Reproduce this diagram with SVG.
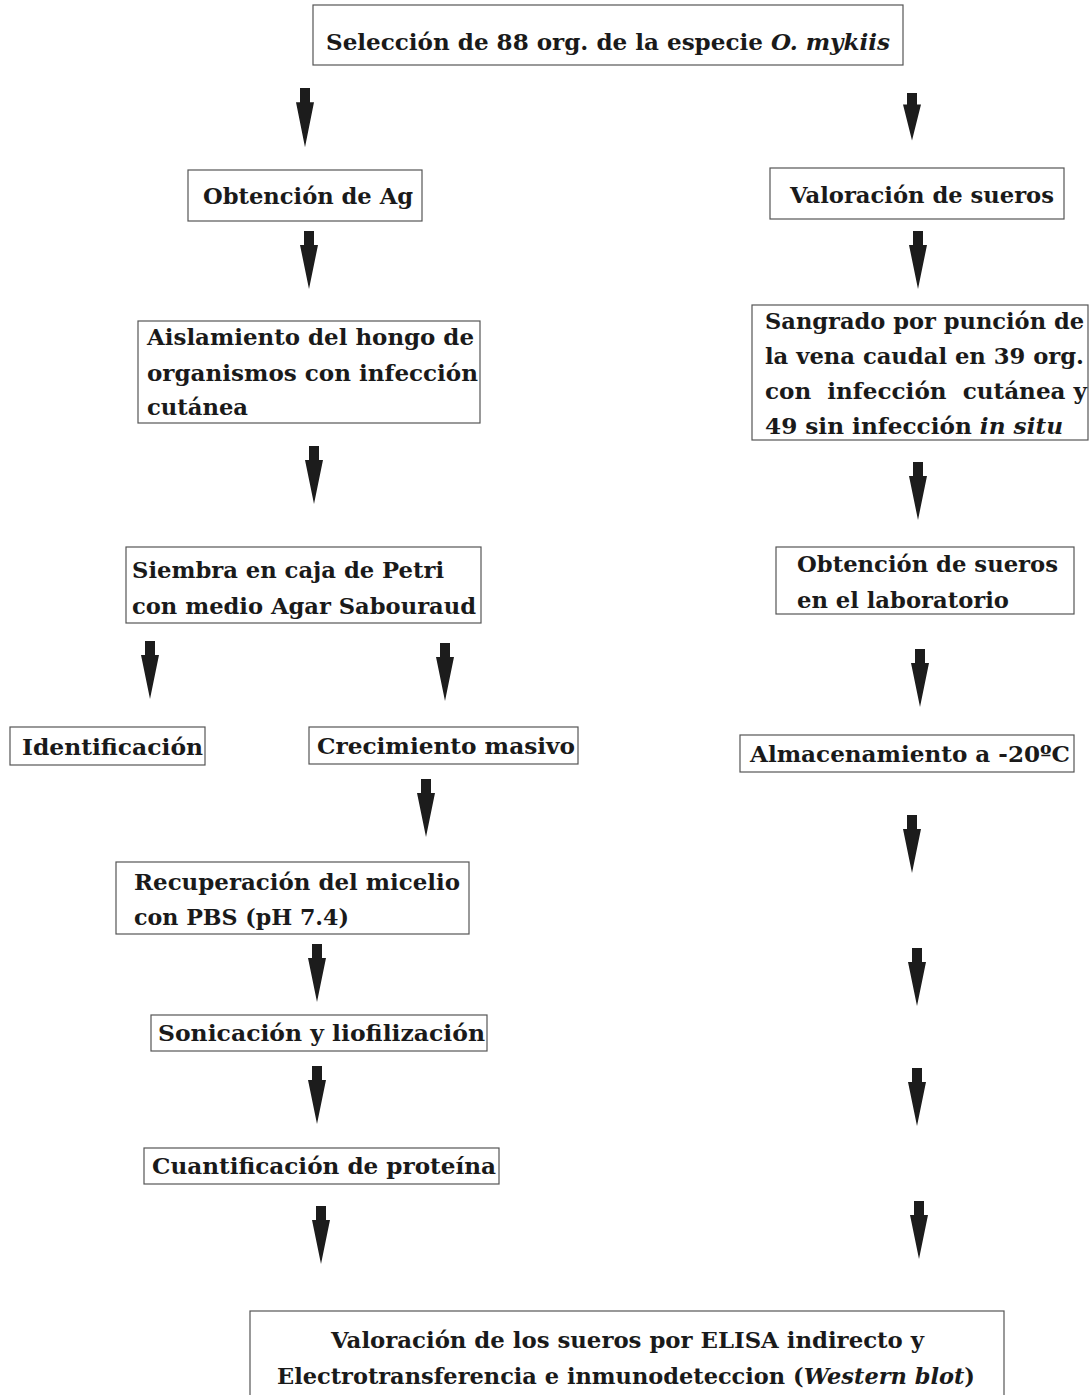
<svg xmlns="http://www.w3.org/2000/svg" width="1092" height="1395" viewBox="0 0 1092 1395">
<defs>
<style>
.box{fill:#fff;stroke:#555;stroke-width:1.2}
.t{font-family:"DejaVu Serif","Liberation Serif",serif;font-weight:bold;font-size:22px;fill:#1a1a1a}
.i{font-style:italic}
.arr{fill:#1c1c1c}
.pre{white-space:pre}
</style>
<path id="ar" d="M-5,0 H5 V14 H9 L0,58 L-9,14 H-5 Z"/>
</defs>
<rect width="1092" height="1395" fill="#fff"/>
<g id="connectors">
<use href="#ar" class="arr" transform="translate(305,88) scale(1,1.02)"/>
<use href="#ar" class="arr" transform="translate(912,93) scale(1,0.82)"/>
<use href="#ar" class="arr" transform="translate(309,231)"/>
<use href="#ar" class="arr" transform="translate(918,231)"/>
<use href="#ar" class="arr" transform="translate(314,446)"/>
<use href="#ar" class="arr" transform="translate(918,462)"/>
<use href="#ar" class="arr" transform="translate(150,641)"/>
<use href="#ar" class="arr" transform="translate(445,643)"/>
<use href="#ar" class="arr" transform="translate(920,649)"/>
<use href="#ar" class="arr" transform="translate(426,779)"/>
<use href="#ar" class="arr" transform="translate(912,815)"/>
<use href="#ar" class="arr" transform="translate(317,944)"/>
<use href="#ar" class="arr" transform="translate(917,948)"/>
<use href="#ar" class="arr" transform="translate(317,1066)"/>
<use href="#ar" class="arr" transform="translate(917,1068)"/>
<use href="#ar" class="arr" transform="translate(321,1206)"/>
<use href="#ar" class="arr" transform="translate(919,1201)"/>
</g>
<g id="n1"><rect class="box" x="313" y="5" width="590" height="60"/>
<text class="t" x="326" y="50" textLength="564" lengthAdjust="spacingAndGlyphs">Selección de 88 org. de la especie <tspan class="i">O. mykiis</tspan></text></g>
<g id="n2"><rect class="box" x="188" y="170" width="234" height="51"/>
<text class="t" x="203" y="204" textLength="210" lengthAdjust="spacingAndGlyphs">Obtención de Ag</text></g>
<g id="n3"><rect class="box" x="770" y="168" width="294" height="51"/>
<text class="t" x="790" y="203" textLength="264" lengthAdjust="spacingAndGlyphs">Valoración de sueros</text></g>
<g id="n4"><rect class="box" x="138" y="321" width="342" height="102"/>
<text class="t" x="147" y="345" textLength="327" lengthAdjust="spacingAndGlyphs">Aislamiento del hongo de</text>
<text class="t" x="147" y="381" textLength="331" lengthAdjust="spacingAndGlyphs">organismos con infección</text>
<text class="t" x="147" y="415" textLength="101" lengthAdjust="spacingAndGlyphs">cutánea</text></g>
<g id="n5"><rect class="box" x="752" y="305" width="336" height="135"/>
<text class="t" x="765" y="329" textLength="319" lengthAdjust="spacingAndGlyphs">Sangrado por punción de</text>
<text class="t" x="765" y="364" textLength="319" lengthAdjust="spacingAndGlyphs">la vena caudal en 39 org.</text>
<text class="t pre" x="765" y="399" textLength="322" lengthAdjust="spacingAndGlyphs">con  infección  cutánea y</text>
<text class="t" x="765" y="434" textLength="298" lengthAdjust="spacingAndGlyphs">49 sin infección <tspan class="i">in situ</tspan></text></g>
<g id="n6"><rect class="box" x="126" y="547" width="355" height="76"/>
<text class="t" x="132" y="578" textLength="312" lengthAdjust="spacingAndGlyphs">Siembra en caja de Petri</text>
<text class="t" x="132" y="614" textLength="344" lengthAdjust="spacingAndGlyphs">con medio Agar Sabouraud</text></g>
<g id="n7"><rect class="box" x="776" y="547" width="298" height="67"/>
<text class="t" x="797" y="572" textLength="261" lengthAdjust="spacingAndGlyphs">Obtención de sueros</text>
<text class="t" x="797" y="608" textLength="212" lengthAdjust="spacingAndGlyphs">en el laboratorio</text></g>
<g id="n8"><rect class="box" x="10" y="727" width="195" height="38"/>
<text class="t" x="22" y="755" textLength="181" lengthAdjust="spacingAndGlyphs">Identificación</text></g>
<g id="n9"><rect class="box" x="309" y="727" width="269" height="37"/>
<text class="t" x="317" y="754" textLength="258" lengthAdjust="spacingAndGlyphs">Crecimiento masivo</text></g>
<g id="n10"><rect class="box" x="740" y="735" width="334" height="37"/>
<text class="t" x="750" y="762" textLength="320" lengthAdjust="spacingAndGlyphs">Almacenamiento a -20ºC</text></g>
<g id="n11"><rect class="box" x="116" y="862" width="353" height="72"/>
<text class="t" x="134" y="890" textLength="326" lengthAdjust="spacingAndGlyphs">Recuperación del micelio</text>
<text class="t" x="134" y="925" textLength="215" lengthAdjust="spacingAndGlyphs">con PBS (pH 7.4)</text></g>
<g id="n12"><rect class="box" x="151" y="1015" width="336" height="36"/>
<text class="t" x="158" y="1041" textLength="327" lengthAdjust="spacingAndGlyphs">Sonicación y liofilización</text></g>
<g id="n13"><rect class="box" x="144" y="1148" width="355" height="36"/>
<text class="t" x="152" y="1174" textLength="344" lengthAdjust="spacingAndGlyphs">Cuantificación de proteína</text></g>
<g id="n14"><rect class="box" x="250" y="1311" width="754" height="90"/>
<text class="t" x="331" y="1348" textLength="593" lengthAdjust="spacingAndGlyphs">Valoración de los sueros por ELISA indirecto y</text>
<text class="t" x="277" y="1384" textLength="698" lengthAdjust="spacingAndGlyphs">Electrotransferencia e inmunodeteccion (<tspan class="i">Western blot</tspan>)</text></g>
</svg>
